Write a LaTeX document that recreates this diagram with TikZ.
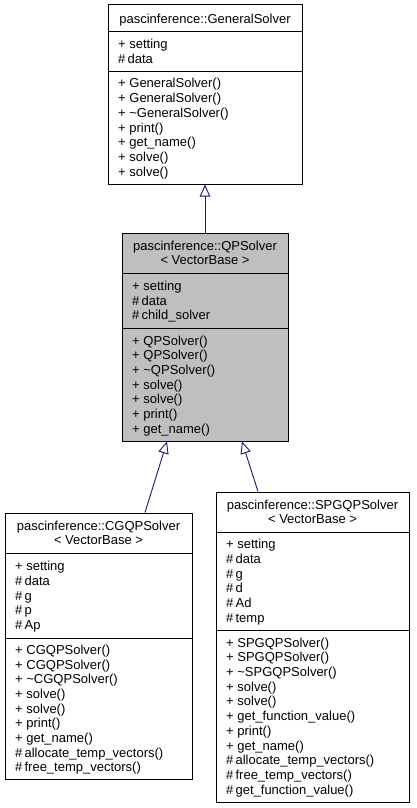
\documentclass[tikz,border=0pt]{standalone}
\usepackage{fontspec}
\setmainfont{Liberation Sans}
\usetikzlibrary{arrows.meta}

\definecolor{edgeblue}{HTML}{191970}
\definecolor{focusgray}{HTML}{BFBFBF}

% left-aligned member lines, centred as a block on a section's middle
\newcommand\memberlines[5]{%
  \foreach \txt [count=\k] in {#5}{%
    \node[member] (#1-\k) at (#2,{#3+(\k-(#4+1)/2)*14.7}) {\txt};}}
% centred heading lines
\newcommand\headlines[5]{%
  \foreach \txt [count=\k] in {#5}{%
    \node[heading] (#1-\k) at (#2,{#3+(\k-(#4+1)/2)*14.7}) {\txt};}}

\begin{document}
\begin{tikzpicture}[x=1pt, y=-1pt,
  font=\fontsize{13}{14.7}\selectfont,
  classbox/.style={draw=black, line width=1pt, fill=white, inner sep=0pt},
  member/.style={anchor=west, inner sep=0pt, text height=9.2pt, text depth=0pt},
  heading/.style={anchor=center, inner sep=0pt, text height=9.2pt, text depth=0pt},
  divider/.style={draw=black, line width=1pt},
  inherit/.style={draw=edgeblue, line width=0.9pt,
    -{Triangle[open, length=12pt, width=10.5pt]}}]
\useasboundingbox (0,0) rectangle (416,808);

% ---------- pascinference::GeneralSolver ----------
\node[classbox, minimum width=194pt, minimum height=179pt] (gen) at (205,94.5) {};
\draw[divider] (108,32) -- (302,32);
\draw[divider] (108,71) -- (302,71);
\headlines{genT}{205}{18.5}{1}{pascinference::GeneralSolver}
\memberlines{genA}{118}{51.5}{2}{+ setting, \#\,data}
\memberlines{genM}{118}{127.5}{7}{+ GeneralSolver(), + GeneralSolver(),
  + \textasciitilde GeneralSolver(), + print(), + get\_name(), + solve(), + solve()}

% ---------- pascinference::QPSolver< VectorBase > ----------
\node[classbox, fill=focusgray, minimum width=166pt, minimum height=208pt] (qp) at (205,337) {};
\draw[divider] (122,273) -- (288,273);
\draw[divider] (122,328) -- (288,328);
\headlines{qpT}{205}{253}{2}{pascinference::QPSolver, < VectorBase >}
\memberlines{qpA}{132}{300.5}{3}{+ setting, \#\,data, \#\,child\_solver}
\memberlines{qpM}{132}{384.5}{7}{+ QPSolver(), + QPSolver(),
  + \textasciitilde QPSolver(), + solve(), + solve(), + print(), + get\_name()}

% ---------- pascinference::CGQPSolver< VectorBase > ----------
\node[classbox, minimum width=187pt, minimum height=266pt] (cg) at (98.5,646) {};
\draw[divider] (5,553) -- (192,553);
\draw[divider] (5,638) -- (192,638);
\headlines{cgT}{98.5}{533}{2}{pascinference::CGQPSolver, < VectorBase >}
\memberlines{cgA}{15}{595.5}{5}{+ setting, \#\,data, \#\,g, \#\,p, \#\,Ap}
\memberlines{cgM}{15}{708.5}{9}{+ CGQPSolver(), + CGQPSolver(),
  + \textasciitilde CGQPSolver(), + solve(), + solve(), + print(), + get\_name(),
  \#\,allocate\_temp\_vectors(), \#\,free\_temp\_vectors()}

% ---------- pascinference::SPGQPSolver< VectorBase > ----------
\node[classbox, minimum width=193pt, minimum height=310pt] (spg) at (312.5,647) {};
\draw[divider] (216,532) -- (409,532);
\draw[divider] (216,630) -- (409,630);
\headlines{spgT}{312.5}{512}{2}{pascinference::SPGQPSolver, < VectorBase >}
\memberlines{spgA}{226}{581}{6}{+ setting, \#\,data, \#\,g, \#\,d, \#\,Ad, \#\,temp}
\memberlines{spgM}{226}{716}{11}{+ SPGQPSolver(), + SPGQPSolver(),
  + \textasciitilde SPGQPSolver(), + solve(), + solve(), + get\_function\_value(),
  + print(), + get\_name(), \#\,allocate\_temp\_vectors(), \#\,free\_temp\_vectors(),
  \#\,get\_function\_value()}

% ---------- inheritance ----------
\draw[inherit] (qp.north) -- (gen.south);
\draw[inherit] ([xshift=46.5pt]cg.north) -- ([xshift=-38pt]qp.south);
\draw[inherit] ([xshift=-54.5pt]spg.north) -- ([xshift=37pt]qp.south);
\end{tikzpicture}
\end{document}
